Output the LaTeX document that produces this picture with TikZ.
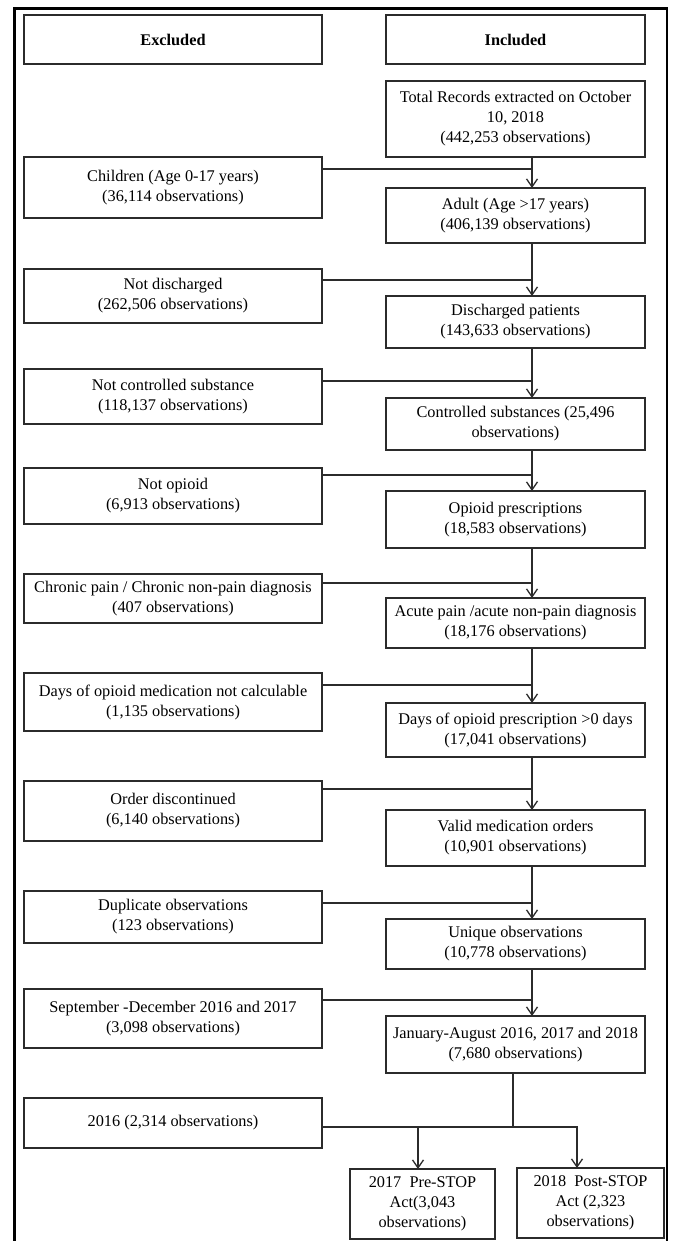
\documentclass[tikz,border=0pt]{standalone}
\usepackage{fontspec}
\setmainfont{Liberation Serif}
\usetikzlibrary{arrows.meta,positioning}
\definecolor{ink}{HTML}{000000}
\definecolor{edge}{HTML}{2B2B2B}
\tikzset{
  box/.style={draw=edge, line width=1.3pt, fill=white, align=center, inner sep=2pt, outer sep=0pt, font=\fontsize{16.3}{20}\selectfont, text=ink},
  exbox/.style={box, minimum width=298pt},
  inbox/.style={box, minimum width=259pt},
  endbox/.style={box, minimum width=145pt, minimum height=70pt},
  link/.style={line width=1.3pt, draw=edge},
  arrow/.style={link, -{Straight Barb[length=8pt,width=11pt]}},
  frame/.style={line width=2.6pt, draw=ink}
}

\begin{document}
\begin{tikzpicture}[x=1pt,y=1pt]
\useasboundingbox (0,0) rectangle (675,-1241);
% outer frame, open at the bottom
\draw[frame] (14.5,-1241) -- (14.5,-8.5) -- (667,-8.5) -- (667,-1241);
% headers
\node[exbox, minimum height=49pt, anchor=north] (exh) at (173,-15) {\textbf{Excluded}};
\node[inbox, minimum height=49pt, right=64pt of exh] (inh) {\textbf{Included}};
% included column
\node[inbox, minimum height=76pt, below=17pt of inh] (tot) {Total Records extracted on October\\10, 2018\\(442,253 observations)};
\node[inbox, minimum height=55pt, below=31pt of tot] (adu) {Adult (Age >17 years)\\(406,139 observations)};
\node[inbox, minimum height=52pt, below=53pt of adu] (dis) {Discharged patients\\(143,633 observations)};
\node[inbox, minimum height=52pt, below=50pt of dis] (ctl) {Controlled substances (25,496\\observations)};
\node[inbox, minimum height=57pt, below=41pt of ctl] (opi) {Opioid prescriptions\\(18,583 observations)};
\node[inbox, minimum height=50pt, below=50pt of opi] (acu) {Acute pain /acute non-pain diagnosis\\(18,176 observations)};
\node[inbox, minimum height=54pt, below=55pt of acu] (day) {Days of opioid prescription >0 days\\(17,041 observations)};
\node[inbox, minimum height=56pt, below=53pt of day] (val) {Valid medication orders\\(10,901 observations)};
\node[inbox, minimum height=50pt, below=53pt of val] (uni) {Unique observations\\(10,778 observations)};
\node[inbox, minimum height=57pt, below=47pt of uni] (jan) {January-August 2016, 2017 and 2018\\(7,680 observations)};
% excluded column
\node[exbox, minimum height=61pt, below=93pt of exh] (kid) {Children (Age 0-17 years)\\(36,114 observations)};
\node[exbox, minimum height=54pt, below=51pt of kid] (ndis) {Not discharged\\(262,506 observations)};
\node[exbox, minimum height=55pt, below=46pt of ndis] (nctl) {Not controlled substance\\(118,137 observations)};
\node[exbox, minimum height=56pt, below=44pt of nctl] (nopi) {Not opioid\\(6,913 observations)};
\node[exbox, minimum height=49pt, below=50pt of nopi] (chr) {Chronic pain / Chronic non-pain diagnosis\\(407 observations)};
\node[exbox, minimum height=58pt, below=50pt of chr] (nday) {Days of opioid medication not calculable\\(1,135 observations)};
\node[exbox, minimum height=60pt, below=50pt of nday] (ord) {Order discontinued\\(6,140 observations)};
\node[exbox, minimum height=52pt, below=50pt of ord] (dup) {Duplicate observations\\(123 observations)};
\node[exbox, minimum height=59pt, below=46pt of dup] (sep) {September -December 2016 and 2017\\(3,098 observations)};
\node[exbox, minimum height=50pt, below=50pt of sep] (y16) {2016 (2,314 observations)};
% study groups
\node[endbox, below=96pt of jan, xshift=-93pt] (pre) {2017~ Pre-STOP\\Act(3,043\\observations)};
\node[endbox, minimum width=147pt, right=22pt of pre, yshift=1pt] (post) {2018~ Post-STOP\\Act (2,323\\observations)};
% main flow
\draw[arrow] ([xshift=16.5pt]tot.south) -- ([xshift=16.5pt]adu.north);
\draw[arrow] ([xshift=16.5pt]adu.south) -- ([xshift=16.5pt]dis.north);
\draw[arrow] ([xshift=16.5pt]dis.south) -- ([xshift=16.5pt]ctl.north);
\draw[arrow] ([xshift=16.5pt]ctl.south) -- ([xshift=16.5pt]opi.north);
\draw[arrow] ([xshift=16.5pt]opi.south) -- ([xshift=16.5pt]acu.north);
\draw[arrow] ([xshift=16.5pt]acu.south) -- ([xshift=16.5pt]day.north);
\draw[arrow] ([xshift=16.5pt]day.south) -- ([xshift=16.5pt]val.north);
\draw[arrow] ([xshift=16.5pt]val.south) -- ([xshift=16.5pt]uni.north);
\draw[arrow] ([xshift=16.5pt]uni.south) -- ([xshift=16.5pt]jan.north);
% exclusions join the flow
\draw[link] ([yshift=-12pt]kid.north east) -| ([xshift=16.5pt]adu.north);
\draw[link] ([yshift=-11pt]ndis.north east) -| ([xshift=16.5pt]dis.north);
\draw[link] ([yshift=-12pt]nctl.north east) -| ([xshift=16.5pt]ctl.north);
\draw[link] ([yshift=-7pt]nopi.north east) -| ([xshift=16.5pt]opi.north);
\draw[link] ([yshift=-9pt]chr.north east) -| ([xshift=16.5pt]acu.north);
\draw[link] ([yshift=-12pt]nday.north east) -| ([xshift=16.5pt]day.north);
\draw[link] ([yshift=-8pt]ord.north east) -| ([xshift=16.5pt]val.north);
\draw[link] ([yshift=-12pt]dup.north east) -| ([xshift=16.5pt]uni.north);
\draw[link] ([yshift=-11pt]sep.north east) -| ([xshift=16.5pt]jan.north);
% split by year
\coordinate (fork) at ([xshift=-2.5pt, yshift=-54pt]jan.south);
\draw[link] ([xshift=-2.5pt]jan.south) -- (fork);
\draw[link] (y16.east |- fork) -- (fork);
\draw[arrow] (fork) -| ([xshift=-4.5pt]pre.north);
\draw[arrow] (fork) -| ([xshift=-13.5pt]post.north);
\end{tikzpicture}
\end{document}
